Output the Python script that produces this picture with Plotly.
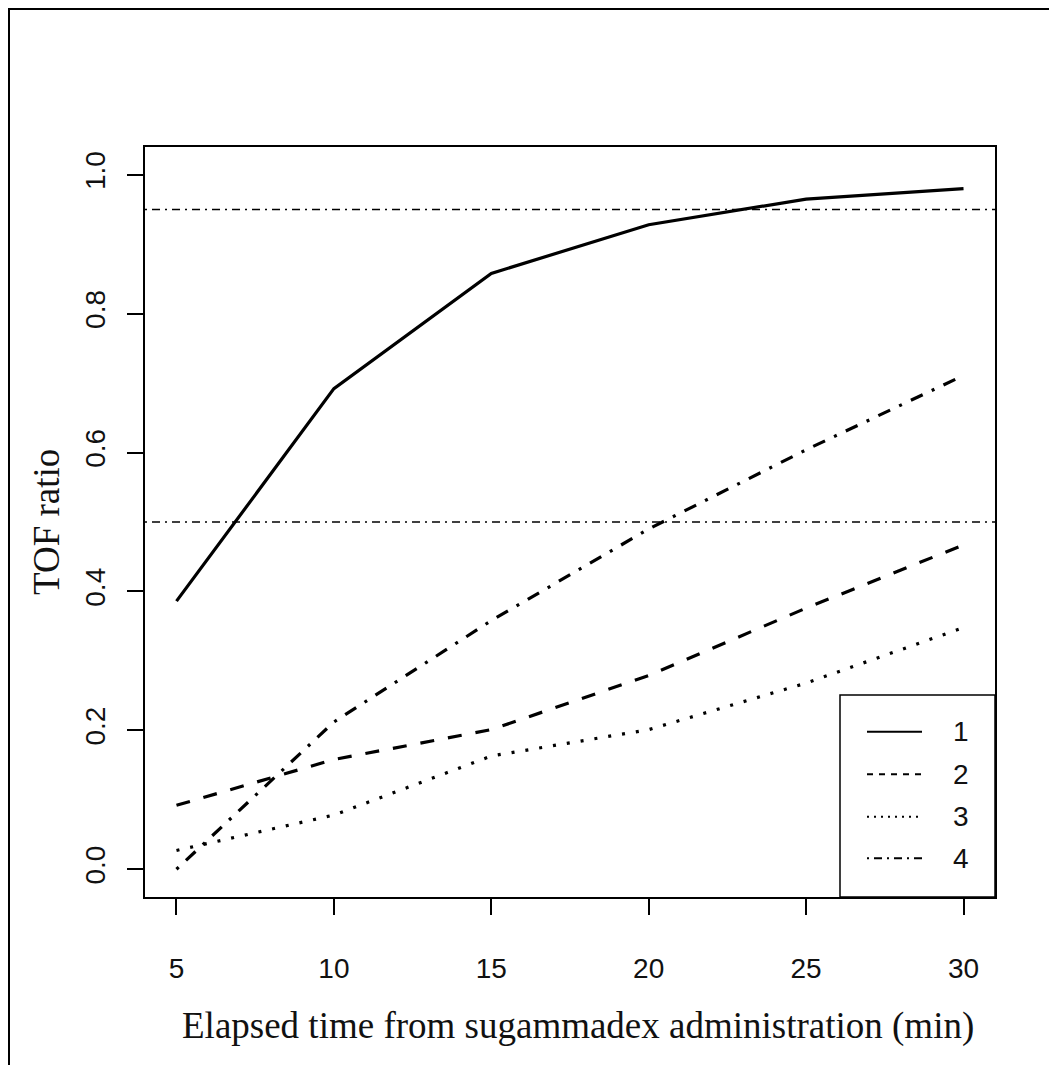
import plotly.graph_objects as go

# ---- data ----
elapsed_min = [5, 10, 15, 20, 25, 30]
series_names = ["1", "2", "3", "4"]
tof_1 = [0.386, 0.692, 0.858, 0.928, 0.965, 0.980]
tof_2 = [0.092, 0.158, 0.201, 0.279, 0.376, 0.467]
tof_3 = [0.027, 0.078, 0.163, 0.201, 0.268, 0.348]
tof_4 = [0.000, 0.212, 0.358, 0.490, 0.604, 0.711]
ref_lines = [0.95, 0.5]
x_ticks = [5, 10, 15, 20, 25, 30]
y_ticks = [0.0, 0.2, 0.4, 0.6, 0.8, 1.0]

series = [tof_1, tof_2, tof_3, tof_4]
data_dash = ["solid", "14px,14px", "3px,11px", "3px,10px,13px,10px"]
legend_dash = ["solid", "6px,6px", "2px,5px", "2px,5px,8px,5px"]

# page body has an 8px margin; work in screen coords and shift
OFF = 8
W, H = 1057 - OFF, 1065 - OFF
L, R, T, B = 145 - OFF, 995 - OFF, 147 - OFF, 897 - OFF
pw, ph = R - L, B - T


def px(x):
    return (x - OFF - L) / pw


def py(y):
    return (B - (y - OFF)) / ph


SANS = "Liberation Sans, Arial, sans-serif"
SERIF = "Liberation Serif, Times New Roman, serif"

fig = go.Figure()
for name, vals, dash in zip(series_names, series, data_dash):
    fig.add_trace(go.Scatter(
        x=elapsed_min, y=vals, mode="lines", name=name,
        line=dict(color="black", width=3.2, dash=dash),
        showlegend=False,
    ))

for yv in ref_lines:
    fig.add_shape(type="line", xref="paper", yref="y", x0=0, x1=1, y0=yv, y1=yv,
                  line=dict(color="black", width=1.5, dash="2px,5px,8px,5px"))

# outer frame
fig.add_shape(type="rect", xref="paper", yref="paper",
              x0=px(9), x1=px(1052), y0=py(1080), y1=py(9),
              line=dict(color="black", width=2), fillcolor="rgba(0,0,0,0)", layer="above")
# legend box
fig.add_shape(type="rect", xref="paper", yref="paper",
              x0=px(840), x1=1.0, y0=0.0, y1=py(695),
              line=dict(color="black", width=1.5), fillcolor="white", layer="above")

row_y = [731.7, 774.3, 816.7, 858.3]
for name, dash, ry in zip(series_names, legend_dash, row_y):
    fig.add_shape(type="line", xref="paper", yref="paper",
                  x0=px(867), x1=px(922), y0=py(ry), y1=py(ry),
                  line=dict(color="black", width=2, dash=dash), layer="above")
    fig.add_annotation(xref="paper", yref="paper", x=px(961), y=py(ry),
                       text=name, showarrow=False, xanchor="center", yanchor="middle",
                       font=dict(family=SANS, size=28, color="#111"))

fig.add_annotation(xref="paper", yref="paper", x=px(578), y=py(1026),
                   text="Elapsed time from sugammadex administration (min)",
                   showarrow=False, xanchor="center", yanchor="middle",
                   font=dict(family=SERIF, size=37, color="#111"))
fig.add_annotation(xref="paper", yref="paper", x=px(46), y=py(522),
                   text="TOF ratio", textangle=-90,
                   showarrow=False, xanchor="center", yanchor="middle",
                   font=dict(family=SERIF, size=37, color="#111"))

fig.update_layout(
    width=W, height=H,
    margin=dict(l=L, r=W - R, t=T, b=H - B),
    paper_bgcolor="white", plot_bgcolor="white",
    showlegend=False,
)
fig.update_xaxes(
    range=[4, 31], tickvals=x_ticks, ticktext=[str(v) for v in x_ticks],
    showgrid=False, zeroline=False, showline=True, mirror=True,
    linecolor="black", linewidth=1.5, ticks="outside", ticklen=16, tickwidth=1.5,
    tickcolor="black", ticklabelstandoff=30,
    tickfont=dict(family=SANS, size=28, color="#111"),
)
fig.update_yaxes(
    range=[-0.04, 1.04], tickvals=y_ticks, ticktext=[f"{v:.1f}" for v in y_ticks],
    showgrid=False, zeroline=False, showline=True, mirror=True,
    linecolor="black", linewidth=1.5, ticks="outside", ticklen=16, tickwidth=1.5,
    tickcolor="black", tickangle=-90, ticklabelstandoff=11,
    tickfont=dict(family=SANS, size=28, color="#111"),
)

fig.write_html("out.html")
